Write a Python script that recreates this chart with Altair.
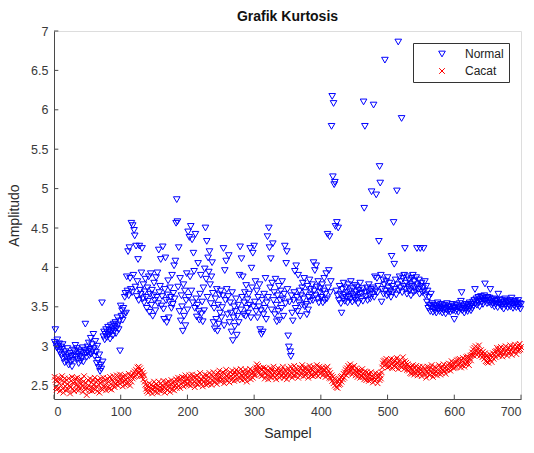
import altair as alt
import pandas as pd

# Kurtosis per sample, "Normal" condition (samples 1..700, in blocks of 100)
normal_001_100 = [
    3.05, 3.21, 3.02, 2.98, 3.08, 3.00, 2.95, 3.03, 2.92, 2.99,
    2.88, 2.96, 3.02, 2.84, 2.90, 2.79, 2.93, 2.86, 2.81, 2.97,
    2.89, 2.76, 2.84, 2.91, 2.80, 2.87, 2.74, 2.82, 2.95, 2.88,
    2.93, 3.01, 2.86, 2.97, 2.83, 2.90, 2.78, 2.94, 2.87, 2.81,
    2.92, 2.85, 2.98, 2.80, 2.89, 2.95, 3.28, 2.91, 2.86, 2.99,
    2.93, 3.04, 2.88, 2.96, 3.10, 2.90, 3.02, 2.94, 3.15, 2.97,
    2.87, 3.06, 2.92, 2.78, 3.00, 2.82, 2.73, 2.89, 2.68, 2.76,
    2.71, 3.55, 2.80, 3.12, 3.18, 3.08, 3.15, 3.21, 3.11, 3.17,
    3.24, 3.14, 3.20, 3.09, 3.26, 3.18, 3.22, 3.13, 3.28, 3.19,
    3.25, 3.30, 3.16, 3.23, 3.36, 3.27, 3.21, 3.32, 2.94, 3.51,
]
normal_101_200 = [
    3.38, 3.45, 3.33, 3.48, 3.40, 3.62, 3.67, 3.42, 3.88, 3.70,
    4.20, 3.64, 4.25, 3.86, 3.72, 4.56, 3.68, 4.53, 3.90, 4.47,
    4.40, 3.75, 4.27, 3.63, 3.82, 4.10, 3.58, 4.27, 3.71, 3.66,
    3.93, 4.24, 3.60, 3.78, 3.55, 3.69, 3.85, 3.62, 3.48, 3.74,
    3.57, 3.88, 3.43, 3.66, 3.92, 3.52, 3.71, 3.38, 3.64, 3.80,
    3.58, 3.45, 3.87, 3.62, 3.93, 3.54, 4.22, 3.68, 3.76, 4.10,
    3.51, 3.63, 4.26, 3.47, 3.34, 3.72, 4.12, 3.58, 3.30, 3.65,
    3.83, 3.36, 3.56, 3.74, 3.62, 3.48, 3.90, 3.53, 3.67, 4.02,
    3.60, 4.08, 4.56, 4.86, 4.58, 3.75, 4.25, 3.44, 3.86, 3.32,
    3.64, 3.50, 3.19, 3.78, 3.38, 3.70, 3.26, 3.58, 3.92, 3.46,
]
normal_201_300 = [
    4.45, 3.62, 4.38, 3.88, 4.52, 3.70, 4.35, 3.55, 4.18, 3.95,
    3.48, 4.42, 3.60, 3.37, 3.52, 4.05, 3.44, 3.33, 3.66, 3.90,
    3.41, 3.56, 3.31, 3.74, 3.45, 3.98, 4.50, 3.85, 4.33, 3.62,
    4.12, 3.94, 4.20, 3.78, 3.54, 3.88, 4.06, 3.67, 3.30, 3.48,
    3.22, 3.60, 3.34, 3.72, 3.19, 3.52, 3.28, 3.65, 3.42, 3.70,
    3.36, 3.49, 3.64, 4.24, 3.26, 3.96, 3.58, 4.08, 3.72, 3.40,
    3.63, 4.15, 3.30, 3.55, 3.42, 3.18, 3.68, 3.07, 3.36, 3.50,
    3.25, 3.44, 3.60, 3.14, 3.38, 3.52, 3.30, 3.90, 4.26, 3.46,
    4.11, 3.62, 3.88, 3.40, 3.55, 3.68, 3.38, 3.77, 3.48, 3.59,
    3.42, 3.66, 3.52, 4.24, 3.36, 3.99, 3.74, 4.18, 3.50, 4.27,
]
normal_301_400 = [
    3.56, 3.82, 3.44, 3.70, 3.36, 3.62, 3.50, 3.78, 3.21, 3.45,
    3.15, 3.58, 3.18, 3.40, 3.66, 3.48, 3.86, 3.34, 3.55, 4.39,
    3.62, 4.50, 4.25, 3.74, 4.11, 3.46, 3.80, 4.30, 3.58, 3.68,
    3.40, 3.85, 3.52, 3.31, 3.64, 3.44, 3.76, 3.33, 3.58, 3.70,
    3.48, 3.82, 3.60, 3.38, 3.66, 4.27, 3.54, 4.05, 4.20, 3.72,
    3.13, 2.99, 3.56, 2.93, 2.87, 3.64, 3.42, 3.32, 3.58, 3.68,
    3.95, 3.48, 4.02, 3.62, 3.44, 3.90, 3.55, 3.70, 3.38, 3.64,
    3.52, 3.74, 3.80, 3.60, 3.86, 3.50, 3.68, 3.53, 3.40, 3.76,
    3.46, 3.62, 3.84, 3.57, 3.72, 3.65, 3.78, 3.58, 4.06, 3.70,
    3.96, 3.64, 4.02, 3.75, 3.60, 3.82, 3.55, 3.68, 3.73, 3.62,
]
normal_401_500 = [
    3.62, 3.78, 3.55, 3.70, 3.86, 3.58, 3.66, 3.92, 3.60, 4.42,
    3.74, 3.96, 4.39, 3.68, 3.82, 5.79, 6.17, 5.15, 6.08, 5.05,
    5.08, 4.52, 3.70, 4.57, 3.64, 4.50, 3.58, 3.76, 3.66, 3.54,
    3.42, 3.72, 3.60, 3.80, 3.65, 3.57, 3.74, 3.62, 3.68, 3.55,
    3.78, 3.63, 3.70, 3.59, 3.82, 3.66, 3.56, 3.73, 3.64, 3.61,
    3.77, 3.58, 3.69, 3.75, 3.62, 3.54, 3.71, 3.66, 3.80, 3.60,
    3.67, 3.73, 3.57, 6.10, 4.75, 5.79, 3.68, 3.63, 3.74, 3.58,
    3.70, 3.78, 3.65, 3.60, 3.72, 4.96, 3.66, 3.74, 6.06, 3.62,
    3.88, 3.70, 4.92, 3.86, 3.68, 3.76, 4.33, 5.28, 5.07, 3.90,
    3.56, 3.72, 3.84, 3.66, 3.78, 6.63, 3.70, 3.82, 3.64, 3.87,
]
normal_501_600 = [
    3.74, 3.66, 3.80, 3.70, 3.62, 4.14, 3.76, 3.68, 4.57, 4.04,
    3.72, 3.84, 3.65, 4.97, 3.78, 6.86, 3.70, 3.88, 3.74, 3.82,
    5.89, 3.68, 3.86, 3.76, 3.90, 4.24, 3.72, 3.80, 3.66, 3.88,
    3.74, 3.84, 3.70, 3.78, 3.64, 3.86, 3.76, 3.90, 3.68, 3.82,
    3.74, 3.70, 3.87, 4.24, 3.78, 3.72, 3.84, 3.66, 4.24, 3.76,
    3.80, 3.68, 3.74, 4.24, 3.70, 3.82, 3.64, 3.76, 3.56, 3.70,
    3.48, 3.62, 3.52, 3.44, 3.66, 3.50, 3.54, 3.43, 3.47, 3.52,
    3.45, 3.50, 3.42, 3.48, 3.55, 3.46, 3.51, 3.44, 3.49, 3.53,
    3.47, 3.42, 3.50, 3.45, 3.52, 3.48, 3.41, 3.46, 3.54, 3.49,
    3.44, 3.51, 3.47, 3.43, 3.50, 3.46, 3.53, 3.45, 3.49, 3.34,
]
normal_601_700 = [
    3.48, 3.44, 3.52, 3.46, 3.50, 3.43, 3.49, 3.54, 3.47, 3.57,
    3.68, 3.45, 3.51, 3.48, 3.42, 3.50, 3.46, 3.53, 3.49, 3.44,
    3.52, 3.47, 3.55, 3.50, 3.45, 3.53, 3.48, 3.56, 3.51, 3.58,
    3.72, 3.54, 3.60, 3.52, 3.57, 3.62, 3.55, 3.50, 3.59, 3.63,
    3.56, 3.61, 3.53, 3.58, 3.64, 3.79, 3.57, 3.60, 3.54, 3.62,
    3.58, 3.55, 3.61, 3.72, 3.56, 3.52, 3.59, 3.54, 3.60, 3.50,
    3.57, 3.53, 3.58, 3.55, 3.49, 3.66, 3.54, 3.59, 3.52, 3.56,
    3.50, 3.58, 3.53, 3.47, 3.55, 3.60, 3.51, 3.57, 3.54, 3.49,
    3.56, 3.52, 3.58, 3.50, 3.55, 3.61, 3.53, 3.48, 3.56, 3.51,
    3.57, 3.54, 3.49, 3.55, 3.52, 3.58, 3.50, 3.54, 3.47, 3.53,
]

# Kurtosis per sample, "Cacat" (defect) condition
cacat_001_100 = [
    2.61, 2.57, 2.48, 2.45, 2.56, 2.60, 2.47, 2.53, 2.43, 2.58,
    2.50, 2.62, 2.46, 2.41, 2.55, 2.59, 2.49, 2.44, 2.57, 2.52,
    2.45, 2.59, 2.50, 2.40, 2.48, 2.56, 2.61, 2.46, 2.53, 2.43,
    2.55, 2.59, 2.45, 2.51, 2.60, 2.48, 2.44, 2.57, 2.53, 2.47,
    2.58, 2.50, 2.42, 2.55, 2.62, 2.48, 2.45, 2.53, 2.38, 2.47,
    2.57, 2.50, 2.44, 2.59, 2.48, 2.54, 2.43, 2.57, 2.47, 2.51,
    2.60, 2.45, 2.55, 2.49, 2.43, 2.57, 2.51, 2.41, 2.53, 2.59,
    2.46, 2.55, 2.45, 2.60, 2.50, 2.48, 2.57, 2.44, 2.53, 2.59,
    2.48, 2.55, 2.46, 2.61, 2.52, 2.45, 2.57, 2.50, 2.62, 2.54,
    2.48, 2.59, 2.52, 2.63, 2.55, 2.50, 2.60, 2.53, 2.64, 2.57,
]
cacat_101_200 = [
    2.60, 2.54, 2.49, 2.62, 2.56, 2.51, 2.63, 2.57, 2.52, 2.60,
    2.54, 2.65, 2.58, 2.50, 2.62, 2.55, 2.63, 2.59, 2.66, 2.61,
    2.68, 2.62, 2.70, 2.64, 2.73, 2.66, 2.74, 2.67, 2.72, 2.63,
    2.69, 2.62, 2.66, 2.58, 2.63, 2.55, 2.51, 2.46, 2.43, 2.50,
    2.41, 2.48, 2.53, 2.43, 2.47, 2.51, 2.40, 2.49, 2.45, 2.55,
    2.48, 2.42, 2.52, 2.46, 2.41, 2.50, 2.55, 2.44, 2.48, 2.53,
    2.43, 2.50, 2.46, 2.56, 2.48, 2.41, 2.52, 2.46, 2.54, 2.44,
    2.50, 2.55, 2.47, 2.42, 2.52, 2.57, 2.45, 2.53, 2.49, 2.44,
    2.55, 2.50, 2.58, 2.47, 2.56, 2.60, 2.50, 2.57, 2.47, 2.59,
    2.52, 2.61, 2.54, 2.49, 2.60, 2.55, 2.63, 2.51, 2.58, 2.53,
]
cacat_201_300 = [
    2.58, 2.51, 2.63, 2.55, 2.50, 2.60, 2.64, 2.53, 2.61, 2.55,
    2.48, 2.60, 2.53, 2.63, 2.57, 2.51, 2.61, 2.55, 2.66, 2.58,
    2.52, 2.57, 2.49, 2.61, 2.55, 2.64, 2.58, 2.51, 2.63, 2.56,
    2.52, 2.61, 2.66, 2.54, 2.59, 2.51, 2.63, 2.56, 2.67, 2.60,
    2.54, 2.64, 2.58, 2.52, 2.62, 2.66, 2.57, 2.69, 2.61, 2.55,
    2.63, 2.58, 2.67, 2.60, 2.53, 2.65, 2.58, 2.70, 2.62, 2.56,
    2.64, 2.60, 2.54, 2.67, 2.62, 2.57, 2.69, 2.60, 2.64, 2.56,
    2.67, 2.62, 2.70, 2.64, 2.57, 2.68, 2.61, 2.66, 2.59, 2.71,
    2.63, 2.57, 2.68, 2.61, 2.65, 2.58, 2.70, 2.63, 2.55, 2.66,
    2.60, 2.68, 2.62, 2.71, 2.58, 2.65, 2.69, 2.60, 2.67, 2.63,
]
cacat_301_400 = [
    2.64, 2.70, 2.73, 2.77, 2.70, 2.75, 2.66, 2.72, 2.64, 2.71,
    2.62, 2.70, 2.63, 2.73, 2.67, 2.59, 2.66, 2.72, 2.63, 2.69,
    2.58, 2.68, 2.62, 2.72, 2.66, 2.60, 2.70, 2.63, 2.74, 2.66,
    2.61, 2.68, 2.58, 2.70, 2.63, 2.72, 2.66, 2.60, 2.68, 2.62,
    2.70, 2.63, 2.74, 2.66, 2.60, 2.70, 2.63, 2.68, 2.58, 2.66,
    2.72, 2.62, 2.68, 2.64, 2.74, 2.66, 2.60, 2.70, 2.63, 2.75,
    2.68, 2.62, 2.72, 2.66, 2.70, 2.60, 2.68, 2.73, 2.63, 2.72,
    2.66, 2.76, 2.69, 2.62, 2.72, 2.67, 2.63, 2.73, 2.66, 2.70,
    2.60, 2.68, 2.75, 2.66, 2.72, 2.63, 2.70, 2.62, 2.74, 2.67,
    2.63, 2.72, 2.66, 2.76, 2.69, 2.62, 2.68, 2.74, 2.65, 2.71,
]
cacat_401_500 = [
    2.67, 2.73, 2.63, 2.71, 2.65, 2.69, 2.61, 2.72, 2.65, 2.74,
    2.63, 2.69, 2.60, 2.66, 2.59, 2.63, 2.56, 2.61, 2.53, 2.59,
    2.50, 2.58, 2.48, 2.56, 2.47, 2.55, 2.51, 2.58, 2.52, 2.61,
    2.55, 2.62, 2.58, 2.65, 2.60, 2.67, 2.70, 2.63, 2.72, 2.66,
    2.75, 2.67, 2.72, 2.77, 2.68, 2.73, 2.64, 2.72, 2.66, 2.75,
    2.69, 2.63, 2.72, 2.67, 2.61, 2.70, 2.65, 2.69, 2.60, 2.67,
    2.63, 2.71, 2.61, 2.66, 2.58, 2.68, 2.62, 2.57, 2.67, 2.61,
    2.65, 2.56, 2.64, 2.60, 2.67, 2.58, 2.62, 2.54, 2.64, 2.60,
    2.56, 2.66, 2.58, 2.63, 2.53, 2.61, 2.65, 2.57, 2.63, 2.59,
    2.67, 2.73, 2.78, 2.81, 2.75, 2.82, 2.77, 2.84, 2.78, 2.73,
]
cacat_501_600 = [
    2.80, 2.74, 2.82, 2.75, 2.84, 2.77, 2.72, 2.79, 2.83, 2.75,
    2.81, 2.73, 2.77, 2.85, 2.79, 2.71, 2.81, 2.75, 2.83, 2.77,
    2.73, 2.79, 2.86, 2.76, 2.71, 2.81, 2.75, 2.79, 2.70, 2.77,
    2.74, 2.69, 2.73, 2.66, 2.72, 2.65, 2.71, 2.76, 2.67, 2.64,
    2.72, 2.66, 2.75, 2.69, 2.63, 2.72, 2.68, 2.74, 2.65, 2.70,
    2.62, 2.68, 2.74, 2.66, 2.72, 2.64, 2.70, 2.60, 2.68, 2.74,
    2.66, 2.70, 2.63, 2.73, 2.68, 2.76, 2.66, 2.61, 2.70, 2.65,
    2.74, 2.68, 2.72, 2.63, 2.70, 2.66, 2.76, 2.68, 2.64, 2.72,
    2.66, 2.74, 2.70, 2.77, 2.68, 2.72, 2.65, 2.74, 2.70, 2.76,
    2.71, 2.78, 2.73, 2.69, 2.77, 2.81, 2.74, 2.79, 2.72, 2.77,
]
cacat_601_700 = [
    2.73, 2.80, 2.74, 2.82, 2.76, 2.83, 2.77, 2.84, 2.78, 2.73,
    2.82, 2.76, 2.85, 2.79, 2.74, 2.83, 2.78, 2.86, 2.80, 2.87,
    2.81, 2.76, 2.85, 2.88, 2.82, 2.89, 2.92, 2.96, 2.88, 2.98,
    2.91, 3.00, 2.94, 2.89, 2.97, 2.92, 3.01, 2.94, 2.88, 2.95,
    2.91, 2.86, 2.93, 2.88, 2.84, 2.91, 2.81, 2.88, 2.80, 2.86,
    2.79, 2.85, 2.90, 2.83, 2.88, 2.80, 2.86, 2.91, 2.84, 2.89,
    2.93, 2.86, 2.94, 2.98, 2.89, 2.95, 2.88, 2.97, 2.91, 2.99,
    2.92, 2.87, 2.96, 2.90, 2.98, 2.92, 3.00, 2.94, 2.88, 2.97,
    2.91, 2.98, 2.93, 3.01, 2.95, 2.89, 2.98, 2.93, 3.00, 2.94,
    3.02, 2.96, 2.90, 2.99, 2.94, 3.01, 2.95, 3.03, 2.96, 2.99,
]

series_names = ["Normal", "Cacat"]
series_colors = ["#0000ff", "#ff0000"]
x_ticks = [0, 100, 200, 300, 400, 500, 600, 700]
y_ticks = [2.5, 3, 3.5, 4, 4.5, 5, 5.5, 6, 6.5, 7]
x_range = [0, 700]
y_range = [2.33, 7]

normal = (normal_001_100 + normal_101_200 + normal_201_300 + normal_301_400
          + normal_401_500 + normal_501_600 + normal_601_700)
cacat = (cacat_001_100 + cacat_101_200 + cacat_201_300 + cacat_301_400
         + cacat_401_500 + cacat_501_600 + cacat_601_700)

rows = []
for name, values in zip(series_names, [normal, cacat]):
    for i, v in enumerate(values):
        rows.append({"sample": i + 1, "value": v, "series": name})
df = pd.DataFrame(rows)

FONT = "Liberation Sans"
AXIS_GREY = "#4a4a4a"

x_scale = alt.Scale(domain=x_range, nice=False, zero=False)
y_scale = alt.Scale(domain=y_range, nice=False, zero=False)

points = alt.Chart(df).mark_point(filled=False, opacity=1, strokeWidth=1).encode(
    x=alt.X("sample:Q", scale=x_scale,
            axis=alt.Axis(title="Sampel", values=x_ticks, format="d")),
    y=alt.Y("value:Q", scale=y_scale,
            axis=alt.Axis(title="Amplitudo", values=y_ticks, format=".1~f")),
    color=alt.Color("series:N",
                    scale=alt.Scale(domain=series_names, range=series_colors),
                    legend=alt.Legend(title=None, orient="none",
                                      legendX=359, legendY=12)),
    shape=alt.Shape("series:N",
                    scale=alt.Scale(domain=series_names,
                                    range=["triangle-down", "M-1,-1L1,1M-1,1L1,-1"]),
                    legend=alt.Legend(title=None, orient="none",
                                      legendX=359, legendY=12)),
    size=alt.Size("series:N",
                  scale=alt.Scale(domain=series_names, range=[44, 32]),
                  legend=None),
    order=alt.Order("order:Q"),
).transform_calculate(order="datum.series == 'Normal' ? 0 : 1")

# inward tick marks along both axes
x_tick_marks = alt.Chart(pd.DataFrame({"sample": x_ticks})).mark_rule(
    color=AXIS_GREY, strokeWidth=1
).encode(
    x=alt.X("sample:Q", scale=x_scale),
    y=alt.datum(y_range[0]),
    y2=alt.datum(y_range[0] + 0.055),
)
y_tick_marks = alt.Chart(pd.DataFrame({"value": y_ticks})).mark_rule(
    color=AXIS_GREY, strokeWidth=1
).encode(
    y=alt.Y("value:Q", scale=y_scale),
    x=alt.datum(x_range[0]),
    x2=alt.datum(6.5),
)

chart = alt.layer(points, x_tick_marks, y_tick_marks).properties(
    width=467,
    height=368,
    autosize=alt.AutoSizeParams(type="none"),
    padding={"left": 54, "top": 31, "right": 13, "bottom": 54},
    title=alt.Title("Grafik Kurtosis", font=FONT, fontSize=14, fontWeight="bold",
                    color="#111111", offset=1, anchor="middle"),
).configure_view(
    stroke=None
).configure(
    background="white"
).configure_axis(
    labelFont=FONT, labelFontSize=12.5, labelColor="#3a3a3a",
    titleFont=FONT, titleFontSize=14, titleFontWeight="normal", titleColor="#2a2a2a",
    domainColor=AXIS_GREY, domainWidth=1,
    ticks=False, grid=False, labelPadding=6,
).configure_axisY(
    titlePadding=9,
).configure_axisX(
    titlePadding=9,
).configure_legend(
    labelFont=FONT, labelFontSize=12, labelColor="#222222",
    fillColor="white", strokeColor="#333333", padding=5,
    symbolOffset=18, labelOffset=17, rowPadding=5, symbolStrokeWidth=1,
)

chart.save("out.html", embed_options={"renderer": "svg", "actions": False})
